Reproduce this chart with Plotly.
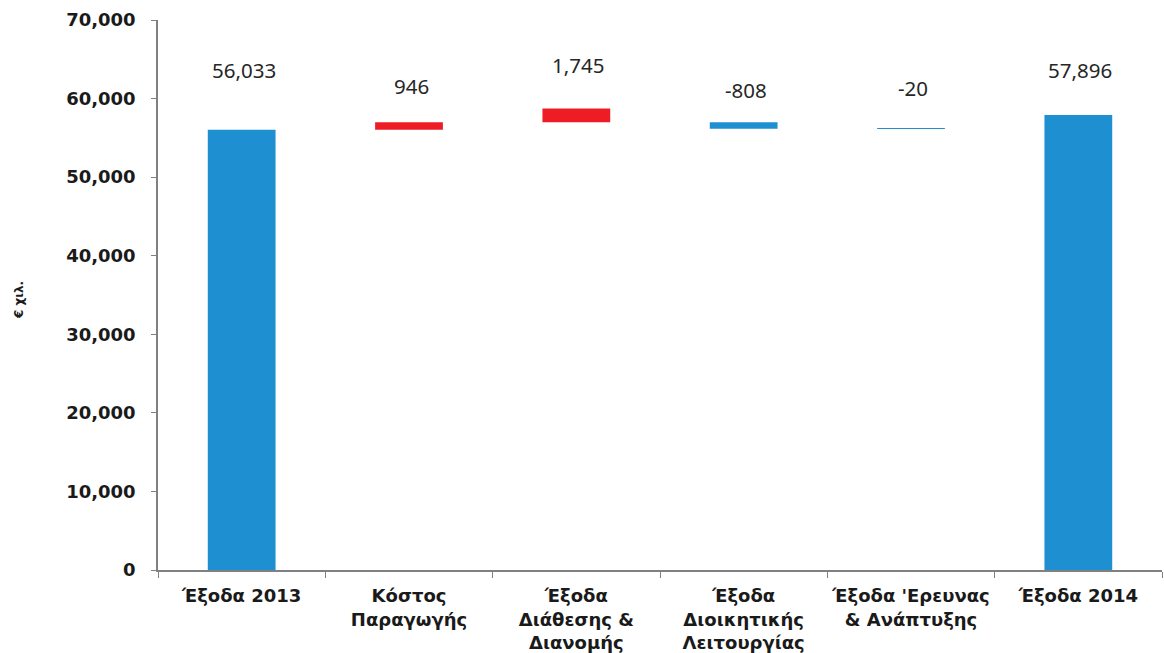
import plotly.graph_objects as go

categories = ["Έξοδα 2013", "Κόστος<br>Παραγωγής", "Έξοδα<br>Διάθεσης &<br>Διανομής",
              "Έξοδα<br>Διοικητικής<br>Λειτουργίας", "Έξοδα 'Ερευνας<br>& Ανάπτυξης", "Έξοδα 2014"]
values = [56033, 946, 1745, -808, -20, 57896]
labels = ["56,033", "946", "1,745", "-808", "-20", "57,896"]
# bar bottoms as drawn in the reference
bar_bottoms = [0, 56033, 56979, 56171, 56151, 0]
colors = ["#1E8FD0", "#EE1D25", "#EE1D25", "#1E8FD0", "#1E8FD0", "#1E8FD0"]
label_levels = [63600, 61600, 64300, 61100, 61350, 63600]
y_ticks = list(range(0, 70001, 10000))

heights = [abs(v) for v in values]

fig = go.Figure()
fig.add_trace(go.Bar(x=categories, y=heights, base=bar_bottoms, marker_color=colors,
                     marker_line_width=0, width=0.405, hoverinfo="skip"))

for c, t, yl in zip(categories, labels, label_levels):
    fig.add_annotation(x=c, y=yl, text=t, showarrow=False, xshift=2,
                       font=dict(family="Noto Sans", size=20.5, color="#262626"),
                       yanchor="middle")

fig.add_annotation(xref="paper", yref="paper", x=0, y=0.5, xshift=-148, yshift=-5,
                   text="<b>€ χιλ.</b>", textangle=-90, showarrow=False,
                   font=dict(family="DejaVu Sans", size=12, color="#1a1a1a"))

fig.update_layout(
    width=1164, height=653,
    margin=dict(l=158, r=2, t=20, b=83),
    paper_bgcolor="white", plot_bgcolor="white",
    showlegend=False,
    yaxis=dict(range=[0, 70000], tickvals=y_ticks,
               ticktext=["<b>{:,}</b>".format(v) for v in y_ticks],
               showgrid=False, zeroline=False, automargin=False,
               showline=True, linecolor="#808080", linewidth=1.5,
               ticks="outside", ticklen=5, tickcolor="#808080", ticklabelstandoff=12,
               tickfont=dict(family="DejaVu Sans", size=18, color="#1a1a1a")),
    xaxis=dict(showgrid=False, showline=True, linecolor="#808080", linewidth=1.5,
               automargin=False, tickangle=0,
               ticks="outside", ticklen=6, tickcolor="#808080", tickson="boundaries",
               ticklabelstandoff=9,
               tickvals=categories, ticktext=["<b>%s</b>" % c for c in categories],
               tickfont=dict(family="DejaVu Sans", size=18, color="#1a1a1a")),
)

fig.write_html("out.html", config={"displayModeBar": False},
               post_script="document.body.style.margin='0';document.body.style.overflow='hidden';")
